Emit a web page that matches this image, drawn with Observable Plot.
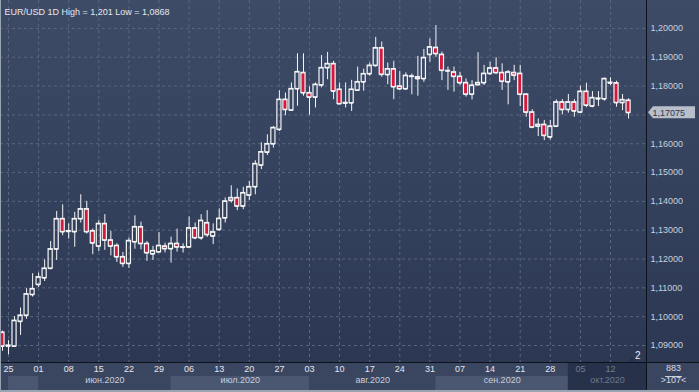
<!DOCTYPE html>
<html><head><meta charset="utf-8">
<script src="https://cdn.jsdelivr.net/npm/d3@7"></script>
<script src="https://cdn.jsdelivr.net/npm/@observablehq/plot@0.6"></script>
<style>
html,body{margin:0;padding:0;background:#2f3b55;}
#chart{width:699px;height:392px;overflow:hidden;}
#chart svg{display:block;}
</style></head><body><div id="chart"></div>
<script>
// EUR/USD daily candles, 22 May 2020 .. 15 Oct 2020 (index 0 = 22 May)
const opens = [1.0945,1.0897,1.0897,1.0983,1.1004,1.1076,1.1111,1.1134,1.1167,1.1234,
1.1339,1.1295,1.1294,1.1339,1.1373,1.1297,1.1244,1.1322,1.1265,1.1246,
1.1207,1.1184,1.1259,1.1311,1.1253,1.1217,1.1224,1.1244,1.1235,1.1253,
1.1240,1.1241,1.1307,1.1273,1.1325,1.1279,1.1302,1.1342,1.1403,1.1412,
1.1383,1.1421,1.1450,1.1525,1.1570,1.1599,1.1649,1.1753,1.1716,1.1790,
1.1846,1.1776,1.1761,1.1803,1.1863,1.1877,1.1788,1.1740,1.1741,1.1785,
1.1814,1.1842,1.1871,1.1932,1.1839,1.1859,1.1799,1.1790,1.1833,1.1831,
1.1825,1.1909,1.1933,1.1909,1.1852,1.1848,1.1833,1.1811,1.1771,1.1804,
1.1811,1.1843,1.1862,1.1846,1.1814,1.1846,1.1843,1.1771,1.1709,1.1660,
1.1666,1.1623,1.1660,1.1744,1.1718,1.1744,1.1709,1.1781,1.1730,1.1755,
1.1755,1.1812,1.1810,1.1742,1.1750];
const highs = [1.0950,1.0917,1.1000,1.1030,1.1097,1.1149,1.1151,1.1197,1.1261,1.1365,
1.1388,1.1322,1.1362,1.1423,1.1400,1.1304,1.1334,1.1354,1.1296,1.1253,
1.1223,1.1273,1.1350,1.1328,1.1261,1.1244,1.1292,1.1255,1.1276,1.1304,
1.1253,1.1346,1.1325,1.1354,1.1368,1.1322,1.1374,1.1412,1.1454,1.1443,
1.1449,1.1469,1.1541,1.1603,1.1631,1.1660,1.1784,1.1776,1.1811,1.1912,
1.1912,1.1797,1.1811,1.1906,1.1917,1.1886,1.1811,1.1811,1.1820,1.1866,
1.1859,1.1880,1.1969,1.1953,1.1880,1.1886,1.1851,1.1846,1.1842,1.1903,
1.1927,1.1964,1.2010,1.1918,1.1866,1.1866,1.1848,1.1825,1.1819,1.1916,
1.1872,1.1883,1.1898,1.1877,1.1854,1.1872,1.1872,1.1773,1.1718,1.1686,
1.1681,1.1681,1.1752,1.1753,1.1771,1.1753,1.1800,1.1810,1.1781,1.1781,
1.1828,1.1829,1.1817,1.1771,1.1756];
const lows = [1.0880,1.0868,1.0897,1.0935,1.0991,1.1068,1.1101,1.1122,1.1163,1.1195,
1.1281,1.1269,1.1241,1.1325,1.1287,1.1215,1.1226,1.1230,1.1211,1.1188,
1.1171,1.1167,1.1234,1.1232,1.1192,1.1195,1.1223,1.1221,1.1186,1.1224,
1.1221,1.1241,1.1267,1.1265,1.1275,1.1250,1.1296,1.1325,1.1394,1.1368,
1.1371,1.1403,1.1423,1.1510,1.1559,1.1585,1.1643,1.1697,1.1712,1.1730,
1.1765,1.1699,1.1724,1.1794,1.1822,1.1753,1.1736,1.1724,1.1712,1.1782,
1.1782,1.1834,1.1865,1.1831,1.1805,1.1753,1.1785,1.1785,1.1770,1.1765,
1.1813,1.1883,1.1900,1.1819,1.1785,1.1779,1.1802,1.1762,1.1752,1.1802,
1.1802,1.1837,1.1840,1.1785,1.1735,1.1819,1.1729,1.1692,1.1652,1.1625,
1.1611,1.1613,1.1657,1.1700,1.1706,1.1692,1.1704,1.1725,1.1725,1.1729,
1.1748,1.1802,1.1727,1.1715,1.1686];
const closes = [1.0897,1.0900,1.0986,1.1004,1.1078,1.1096,1.1137,1.1167,1.1234,1.1339,
1.1294,1.1297,1.1339,1.1373,1.1294,1.1255,1.1322,1.1265,1.1244,1.1207,
1.1184,1.1263,1.1311,1.1253,1.1221,1.1228,1.1246,1.1235,1.1253,1.1241,
1.1241,1.1307,1.1273,1.1333,1.1284,1.1293,1.1340,1.1400,1.1412,1.1383,
1.1429,1.1450,1.1530,1.1571,1.1599,1.1655,1.1753,1.1718,1.1790,1.1849,
1.1776,1.1761,1.1805,1.1863,1.1877,1.1782,1.1738,1.1742,1.1788,1.1814,
1.1842,1.1871,1.1932,1.1840,1.1859,1.1797,1.1790,1.1836,1.1834,1.1825,
1.1898,1.1935,1.1912,1.1854,1.1853,1.1833,1.1811,1.1771,1.1802,1.1811,
1.1843,1.1862,1.1846,1.1816,1.1848,1.1837,1.1771,1.1709,1.1657,1.1666,
1.1628,1.1660,1.1744,1.1718,1.1744,1.1713,1.1781,1.1733,1.1759,1.1757,
1.1825,1.1810,1.1742,1.1752,1.17075];

// Week (Monday) ticks
const dayTicks = [1,6,11,16,21,26,31,36,41,46,51,56,61,66,71,76,81,86,91,96,101];
const dayLabels = ["25","01","08","15","22","29","06","13","20","27","03","10","17","24","31","07","14","21","28","05","12"];
// Months
const monthStart = [1,6,28,51,72,94];
const monthEnd   = [6,28,51,72,94,107];
const monthLabels = ["","июн.2020","июл.2020","авг.2020","сен.2020","окт.2020"];
// Price axis
const yTicks = [1.09,1.10,1.11,1.12,1.13,1.14,1.15,1.16,1.17,1.18,1.19,1.20];
const yTickLabels = ["1,09000","1,10000","1,11000","1,12000","1,13000","1,14000","1,15000","1,16000","1,17000","1,18000","1,19000","1,20000"];
const titleText = "EUR/USD 1D High = 1,201 Low = 1,0868";
const cornerTop = "883", cornerBottom = ">107<", barsMark = "2";

const N = opens.length;
const candles = d3.range(N).map(i => ({i, o: opens[i], h: highs[i], l: lows[i], c: closes[i]}));
const months = monthStart.map((s, k) => ({s, e: monthEnd[k], label: monthLabels[k], k}));
const lastClose = closes[N - 1];
// the price tag covers the axis label closest to it
const labelTicks = yTicks.filter(t => Math.abs(t - lastClose) > 0.004);

const RED = "#d31a3c", WHITE = "#f4f5f7", GRID = "#5a6680";

function chrome(index, scales, values, dims) {
  const {width, height, marginRight, marginBottom} = dims;
  const x0 = width - marginRight, y0 = height - marginBottom;
  const g = d3.create("svg:g");
  g.append("line").attr("x1", x0 + 0.5).attr("x2", x0 + 0.5).attr("y1", 0).attr("y2", height).attr("stroke", "#0c111b");
  g.append("line").attr("x1", 0).attr("x2", width).attr("y1", y0 + 0.5).attr("y2", y0 + 0.5).attr("stroke", "#0c111b");
  // corner separator
  g.append("line").attr("x1", x0 + 19).attr("x2", x0 + 36).attr("y1", y0 + 14.5).attr("y2", y0 + 14.5).attr("stroke", "#c9d0db");
  // small marker left of the "2"
  g.append("path").attr("d", `M${x0 - 17},${y0 - 1} l3,-4 l3,4 Z`).attr("fill", "#26304a");
  // price tag
  const py = scales.y(lastClose);
  g.append("path").attr("d", `M${x0 + 2},${py} L${x0 + 7},${py - 6} H${x0 + 49} V${py + 6} H${x0 + 7} Z`).attr("fill", "#b8bfcb");
  // window borders
  g.append("rect").attr("x", 0).attr("y", height - 2).attr("width", width).attr("height", 2).attr("fill", "#9aa3b2");
  g.append("rect").attr("x", 0).attr("y", 0).attr("width", 1).attr("height", height).attr("fill", "#9aa3b2");
  return g.node();
}

const plot = Plot.plot({
  width: 699, height: 392,
  marginLeft: 0, marginRight: 53, marginTop: 0, marginBottom: 30,
  x: {domain: [-0.332, 106.98], axis: null},
  y: {domain: [1.0841, 1.2097], axis: null},
  style: {fontFamily: "'Liberation Sans', Arial, sans-serif", fontSize: "9px", color: "#c9d0db",
          background: "linear-gradient(to bottom, #3e4b66 0%, #33405b 55%, #2b3651 100%)"},
  marks: [
    // bottom axis area
    Plot.rect([0], {insetTop: 362, insetBottom: -30, insetRight: -53, fill: "#3a4560"}),
    Plot.rect(months.filter(m => m.k % 2 === 0 && m.k < 5), {x1: "s", x2: "e", insetTop: 376, insetBottom: -28, fill: "#4b5671"}),
    Plot.rect(months.filter(m => m.k === 5), {x1: "s", x2: "e", insetTop: 363, insetBottom: -28, fill: "#28314a"}),
    // grid
    Plot.ruleY(yTicks, {stroke: GRID, strokeDasharray: "3,3", strokeWidth: 1}),
    Plot.ruleX(dayTicks, {stroke: GRID, strokeDasharray: "3,3", strokeWidth: 1}),
    // candles
    Plot.ruleX(candles, {x: "i", y1: "h", y2: d => Math.max(d.o, d.c), stroke: WHITE, strokeWidth: 1}),
    Plot.ruleX(candles, {x: "i", y1: "l", y2: d => Math.min(d.o, d.c), stroke: WHITE, strokeWidth: 1}),
    Plot.rect(candles.filter(d => d.c < d.o), {x1: d => d.i - 0.34, x2: d => d.i + 0.34, y1: "o", y2: "c", fill: RED, stroke: WHITE, strokeWidth: 1.2}),
    Plot.rect(candles.filter(d => d.c >= d.o), {x1: d => d.i - 0.34, x2: d => d.i + 0.34, y1: "o", y2: "c", fill: "none", stroke: WHITE, strokeWidth: 1.2}),
    Plot.ruleY(candles, {y: "o", x1: d => d.i - 0.34, x2: d => d.i + 0.34, stroke: WHITE, strokeWidth: 1.2}),
    Plot.ruleY(candles, {y: "c", x1: d => d.i - 0.34, x2: d => d.i + 0.34, stroke: WHITE, strokeWidth: 1.2}),
    chrome,
    // right price axis
    Plot.axisY({anchor: "right", ticks: labelTicks, tickFormat: d => yTickLabels[yTicks.indexOf(d)], tickSize: 0, tickPadding: 4, fill: "#c9d0db", fontSize: 9}),
    Plot.text([lastClose], {y: d => d, text: d => d3.format(".5f")(d).replace(".", ","), frameAnchor: "right", dx: 6, textAnchor: "start", fill: "#2c3650", fontSize: 9}),
    // bottom labels
    Plot.text(dayTicks, {x: d => d, text: (d, i) => dayLabels[i], frameAnchor: "bottom", dy: 9, fill: d => d >= 94 ? "#707c93" : "#e2e6ec", fontSize: 9}),
    Plot.text(months.filter(m => m.label), {x: m => (m.s + m.e) / 2, text: "label", frameAnchor: "bottom", dy: 20, fill: m => m.k === 5 ? "#6c7890" : "#c9d0db", fontSize: 9}),
    // title and corner texts
    Plot.text([titleText], {text: d => d, frameAnchor: "top-left", dx: 4, dy: 8, textAnchor: "start", fill: "#e3e7ed", fontSize: 9}),
    Plot.text([barsMark], {text: d => d, frameAnchor: "bottom-right", dx: -6, dy: -4, textAnchor: "end", fill: "#eef0f4", fontSize: 10}),
    Plot.text([cornerTop], {text: d => d, frameAnchor: "bottom-right", dx: 27, dy: 8, textAnchor: "middle", fill: "#d6dce5", fontSize: 9}),
    Plot.text([cornerBottom], {text: d => d, frameAnchor: "bottom-right", dx: 27, dy: 20, textAnchor: "middle", fill: "#d6dce5", fontSize: 9})
  ]
});
document.getElementById("chart").appendChild(plot);
</script>
</body></html>
